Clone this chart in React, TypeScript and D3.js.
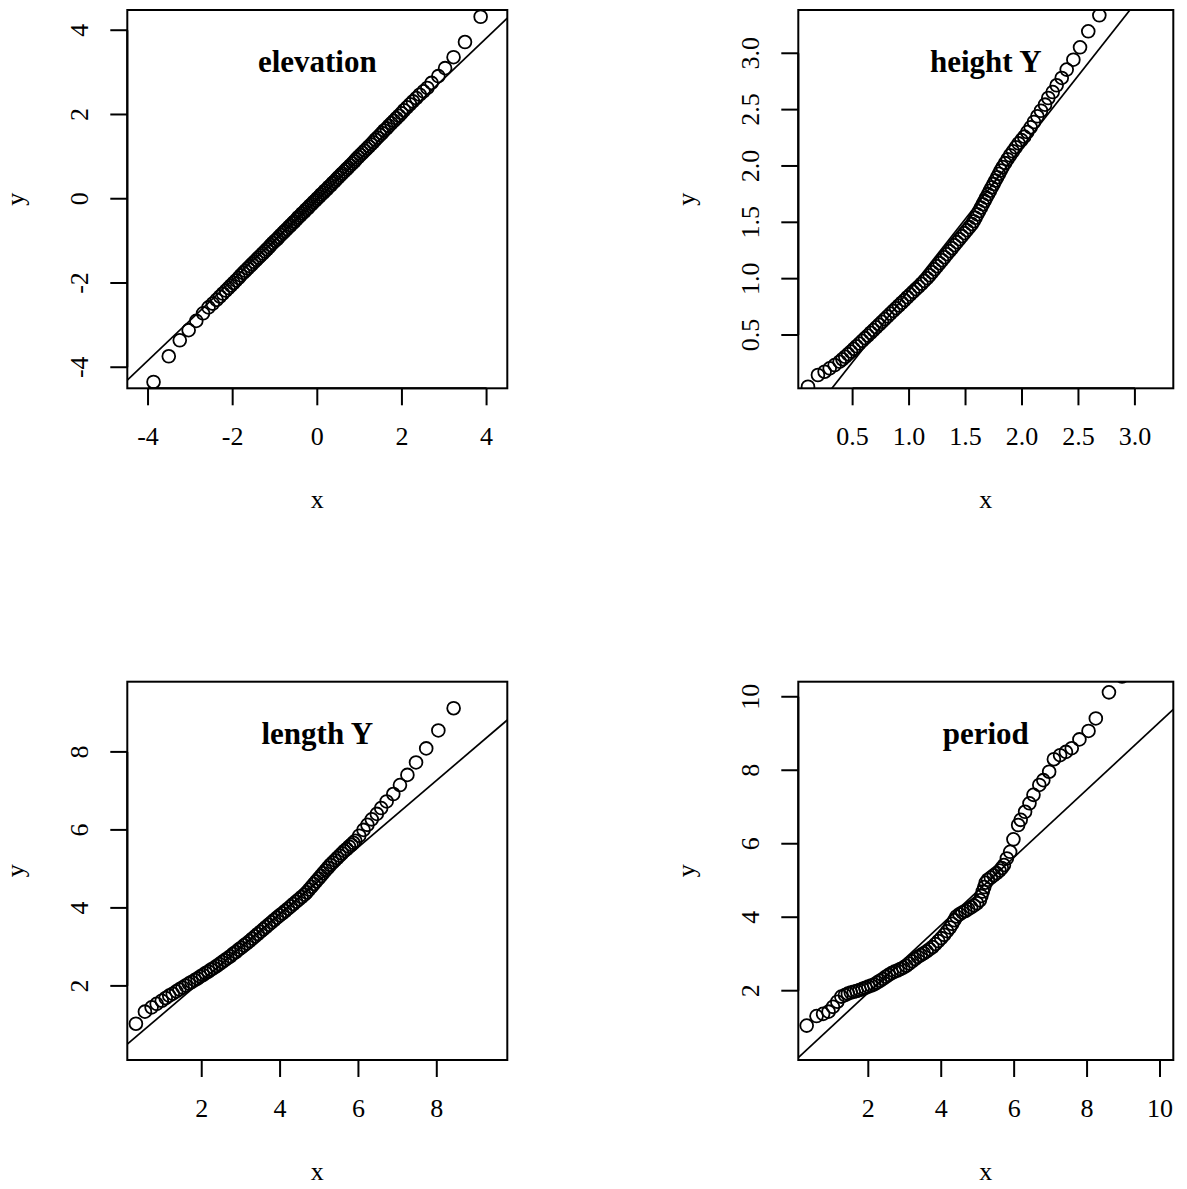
import React from "react";
import * as d3 from "d3";

// Quantile pairs [x, y] for each variable
const elevationQQ: [number, number][] = [
  [-3.87, -4.35], [-3.51, -3.74], [-3.25, -3.36], [-3.04, -3.12], [-2.86, -2.9], [-2.7, -2.72], [-2.57, -2.58], [-2.47, -2.49],
  [-2.38, -2.4], [-2.3, -2.32], [-2.23, -2.25], [-2.16, -2.18], [-2.1, -2.12], [-2.04, -2.06], [-1.98, -2.0], [-1.92, -1.94],
  [-1.86, -1.88], [-1.81, -1.82], [-1.75, -1.76], [-1.7, -1.71], [-1.64, -1.65], [-1.59, -1.6], [-1.54, -1.55], [-1.49, -1.5],
  [-1.44, -1.45], [-1.39, -1.4], [-1.34, -1.35], [-1.29, -1.3], [-1.24, -1.25], [-1.19, -1.2], [-1.14, -1.15], [-1.1, -1.1],
  [-1.05, -1.05], [-1.0, -1.0], [-0.95, -0.96], [-0.91, -0.91], [-0.86, -0.86], [-0.81, -0.81], [-0.77, -0.77], [-0.72, -0.72],
  [-0.67, -0.67], [-0.63, -0.63], [-0.58, -0.58], [-0.54, -0.54], [-0.49, -0.49], [-0.45, -0.44], [-0.4, -0.4], [-0.36, -0.35],
  [-0.31, -0.31], [-0.27, -0.26], [-0.22, -0.22], [-0.18, -0.17], [-0.13, -0.13], [-0.09, -0.08], [-0.04, -0.04], [0.0, 0.01],
  [0.05, 0.05], [0.09, 0.1], [0.14, 0.14], [0.18, 0.19], [0.23, 0.23], [0.27, 0.28], [0.32, 0.32], [0.36, 0.37], [0.41, 0.41],
  [0.45, 0.46], [0.5, 0.51], [0.55, 0.56], [0.59, 0.6], [0.64, 0.65], [0.69, 0.7], [0.73, 0.74], [0.78, 0.79], [0.83, 0.84],
  [0.88, 0.89], [0.92, 0.94], [0.97, 0.99], [1.02, 1.04], [1.07, 1.09], [1.12, 1.14], [1.17, 1.19], [1.22, 1.24], [1.27, 1.29],
  [1.32, 1.34], [1.37, 1.4], [1.42, 1.45], [1.48, 1.51], [1.53, 1.56], [1.58, 1.62], [1.64, 1.67], [1.69, 1.73], [1.75, 1.79],
  [1.81, 1.85], [1.87, 1.91], [1.93, 1.97], [1.99, 2.03], [2.05, 2.1], [2.12, 2.17], [2.19, 2.24], [2.26, 2.31], [2.34, 2.39],
  [2.42, 2.47], [2.51, 2.55], [2.6, 2.63], [2.7, 2.75], [2.86, 2.91], [3.02, 3.1], [3.22, 3.36], [3.49, 3.72], [3.86, 4.32],
];

const heightQQ: [number, number][] = [
  [0.105, 0.041], [0.193, 0.145], [0.252, 0.174], [0.297, 0.204], [0.341, 0.233], [0.385, 0.263],
  [0.41, 0.285], [0.435, 0.307], [0.46, 0.33], [0.485, 0.353], [0.51, 0.377], [0.535, 0.4], [0.56, 0.424],
  [0.585, 0.448], [0.61, 0.472], [0.635, 0.495], [0.66, 0.52], [0.685, 0.544], [0.71, 0.568], [0.735, 0.592],
  [0.76, 0.617], [0.785, 0.641], [0.81, 0.665], [0.835, 0.69], [0.86, 0.714], [0.885, 0.738], [0.91, 0.762],
  [0.935, 0.786], [0.96, 0.81], [0.985, 0.835], [1.01, 0.859], [1.035, 0.883], [1.06, 0.907], [1.085, 0.93],
  [1.11, 0.955], [1.135, 0.98], [1.16, 1.004], [1.182, 1.03], [1.204, 1.057], [1.226, 1.083], [1.248, 1.11],
  [1.27, 1.137], [1.292, 1.163], [1.314, 1.19], [1.336, 1.217], [1.358, 1.244], [1.38, 1.27], [1.402, 1.297],
  [1.424, 1.324], [1.446, 1.35], [1.468, 1.377], [1.49, 1.404], [1.512, 1.43], [1.534, 1.457], [1.556, 1.484],
  [1.572, 1.51], [1.588, 1.54], [1.604, 1.57], [1.62, 1.6], [1.636, 1.63], [1.652, 1.66], [1.668, 1.69],
  [1.684, 1.72], [1.7, 1.75], [1.716, 1.78], [1.732, 1.81], [1.748, 1.84], [1.764, 1.87], [1.78, 1.9],
  [1.796, 1.93], [1.812, 1.96], [1.828, 1.99], [1.85, 2.025], [1.872, 2.06], [1.895, 2.095], [1.92, 2.13],
  [1.945, 2.165], [1.97, 2.2], [1.995, 2.23], [2.02, 2.26], [2.047, 2.301], [2.077, 2.343], [2.106, 2.39],
  [2.136, 2.441], [2.168, 2.49], [2.204, 2.544], [2.233, 2.603], [2.272, 2.656], [2.307, 2.716], [2.352, 2.781],
  [2.396, 2.855], [2.455, 2.943], [2.514, 3.053], [2.587, 3.195], [2.685, 3.337],
];

const lengthQQ: [number, number][] = [
  [0.32, 1.03], [0.55, 1.34], [0.72, 1.45], [0.85, 1.54], [0.98, 1.62], [1.08, 1.69], [1.17, 1.75], [1.26, 1.8],
  [1.35, 1.86], [1.43, 1.91], [1.51, 1.96], [1.59, 2.01], [1.67, 2.06], [1.74, 2.1], [1.82, 2.15], [1.89, 2.19],
  [1.96, 2.24], [2.03, 2.28], [2.1, 2.33], [2.17, 2.37], [2.24, 2.42], [2.31, 2.46], [2.38, 2.51], [2.45, 2.56],
  [2.52, 2.61], [2.59, 2.66], [2.66, 2.71], [2.73, 2.76], [2.8, 2.82], [2.87, 2.87], [2.94, 2.93], [3.01, 2.98],
  [3.08, 3.04], [3.15, 3.09], [3.22, 3.15], [3.29, 3.21], [3.36, 3.27], [3.43, 3.33], [3.5, 3.39], [3.57, 3.45],
  [3.64, 3.51], [3.71, 3.57], [3.78, 3.63], [3.85, 3.69], [3.92, 3.75], [3.99, 3.81], [4.06, 3.86], [4.13, 3.92],
  [4.2, 3.98], [4.27, 4.04], [4.34, 4.1], [4.41, 4.16], [4.48, 4.22], [4.55, 4.28], [4.62, 4.34], [4.68, 4.4],
  [4.74, 4.47], [4.8, 4.54], [4.86, 4.61], [4.92, 4.68], [4.98, 4.75], [5.04, 4.82], [5.1, 4.89], [5.16, 4.96],
  [5.22, 5.03], [5.28, 5.1], [5.34, 5.16], [5.4, 5.22], [5.46, 5.28], [5.52, 5.34], [5.58, 5.4], [5.64, 5.46],
  [5.7, 5.51], [5.76, 5.57], [5.82, 5.62], [5.87, 5.67], [5.92, 5.72], [6.02, 5.85], [6.13, 6.0], [6.23, 6.13],
  [6.34, 6.27], [6.47, 6.41], [6.58, 6.56], [6.72, 6.73], [6.89, 6.92], [7.06, 7.15], [7.25, 7.41], [7.47, 7.73],
  [7.73, 8.09], [8.04, 8.55], [8.43, 9.12],
];

const periodQQ: [number, number][] = [
  [0.31, 1.05], [0.58, 1.31], [0.76, 1.37], [0.91, 1.43], [1.03, 1.56], [1.15, 1.7], [1.26, 1.84], [1.36, 1.88],
  [1.44, 1.92], [1.52, 1.95], [1.6, 1.97], [1.68, 1.99], [1.76, 2.02], [1.84, 2.05], [1.92, 2.08], [2.0, 2.11],
  [2.08, 2.14], [2.16, 2.17], [2.24, 2.22], [2.32, 2.27], [2.4, 2.32], [2.48, 2.38], [2.56, 2.43], [2.64, 2.48],
  [2.72, 2.52], [2.8, 2.55], [2.88, 2.59], [2.96, 2.63], [3.04, 2.68], [3.12, 2.74], [3.2, 2.8], [3.28, 2.86],
  [3.36, 2.92], [3.44, 2.97], [3.52, 3.02], [3.6, 3.07], [3.68, 3.13], [3.76, 3.19], [3.84, 3.27], [3.92, 3.35],
  [4.0, 3.43], [4.08, 3.52], [4.16, 3.62], [4.24, 3.72], [4.3, 3.82], [4.36, 3.92], [4.42, 4.02], [4.5, 4.08],
  [4.58, 4.13], [4.66, 4.17], [4.74, 4.22], [4.82, 4.27], [4.9, 4.32], [4.98, 4.38], [5.06, 4.46], [5.1, 4.58],
  [5.14, 4.7], [5.18, 4.82], [5.22, 4.94], [5.28, 5.02], [5.36, 5.08], [5.44, 5.14], [5.52, 5.2], [5.6, 5.27],
  [5.66, 5.34], [5.72, 5.42], [5.8, 5.6], [5.89, 5.78], [5.98, 6.12], [6.11, 6.51], [6.18, 6.65], [6.3, 6.87],
  [6.42, 7.1], [6.53, 7.33], [6.69, 7.6], [6.8, 7.73], [6.96, 7.96], [7.09, 8.3], [7.26, 8.41], [7.42, 8.5],
  [7.58, 8.6], [7.79, 8.84], [8.04, 9.07], [8.24, 9.41], [8.6, 10.12], [8.96, 10.55],
];

// Reference lines: [intercept, slope]
const elevationLine = [-0.012, 0.957];
const heightLine = [-0.376, 1.272];
const lengthLine = [0.419, 0.857];
const periodLine = [0.105, 0.9215];

// Axis ticks
const elevationTicks = [-4, -2, 0, 2, 4];
const heightTicks = [0.5, 1.0, 1.5, 2.0, 2.5, 3.0];
const lengthTicks = [2, 4, 6, 8];
const periodXTicks = [2, 4, 6, 8, 10];
const periodYTicks = [2, 4, 6, 8, 10];

const titles = ["elevation", "height Y", "length Y", "period"];

const W = 1187;
const H = 1189;
const colLeft = [127.3, 798.3];
const colRight = [507.3, 1173.3];
const rowTop = [10, 681.7];
const rowBottom = [388.3, 1060];

const FONT = "'Liberation Serif', 'Times New Roman', serif";
const TICK_SIZE = 26;
const TITLE_SIZE = 31;

type PanelSpec = {
  id: string;
  title: string;
  pts: [number, number][];
  line: number[];
  xDomain: [number, number];
  yDomain: [number, number];
  xTicks: number[];
  yTicks: number[];
  fmt: (d: number) => string;
  col: number;
  row: number;
};

const plain = (d: number) => String(d);
const oneDecimal = (d: number) => d.toFixed(1);

const panels: PanelSpec[] = [
  { id: "p1", title: titles[0], pts: elevationQQ, line: elevationLine, xDomain: [-4.49, 4.49], yDomain: [-4.5, 4.48], xTicks: elevationTicks, yTicks: elevationTicks, fmt: plain, col: 0, row: 0 },
  { id: "p2", title: titles[1], pts: heightQQ, line: heightLine, xDomain: [0.019, 3.34], yDomain: [0.027, 3.384], xTicks: heightTicks, yTicks: heightTicks, fmt: oneDecimal, col: 1, row: 0 },
  { id: "p3", title: titles[2], pts: lengthQQ, line: lengthLine, xDomain: [0.1, 9.8], yDomain: [0.1, 9.8], xTicks: lengthTicks, yTicks: lengthTicks, fmt: plain, col: 0, row: 1 },
  { id: "p4", title: titles[3], pts: periodQQ, line: periodLine, xDomain: [0.08, 10.365], yDomain: [0.114, 10.41], xTicks: periodXTicks, yTicks: periodYTicks, fmt: plain, col: 1, row: 1 },
];

function QQPanel({ p }: { p: PanelSpec }) {
  const left = colLeft[p.col];
  const right = colRight[p.col];
  const top = rowTop[p.row];
  const bottom = rowBottom[p.row];
  const x = d3.scaleLinear().domain(p.xDomain).range([left, right]);
  const y = d3.scaleLinear().domain(p.yDomain).range([bottom, top]);
  const [a, b] = p.line;
  const lineGen = d3
    .line<number>()
    .x((d) => x(d))
    .y((d) => y(a + b * d));
  const cx = (left + right) / 2;
  const cy = (top + bottom) / 2;
  const tick = 17;

  return (
    <g>
      <defs>
        <clipPath id={`clip-${p.id}`}>
          <rect x={left} y={top} width={right - left} height={bottom - top} />
        </clipPath>
      </defs>
      <g clipPath={`url(#clip-${p.id})`}>
        <path d={lineGen(p.xDomain) || ""} fill="none" stroke="#000" strokeWidth={1.7} />
        {p.pts.map(([px, py], i) => (
          <circle key={i} cx={x(px)} cy={y(py)} r={6.4} fill="none" stroke="#000" strokeWidth={1.8} />
        ))}
      </g>
      <rect x={left} y={top} width={right - left} height={bottom - top} fill="none" stroke="#000" strokeWidth={2} />

      {/* bottom axis */}
      <line x1={x(p.xTicks[0])} x2={x(p.xTicks[p.xTicks.length - 1])} y1={bottom} y2={bottom} stroke="#000" strokeWidth={2} />
      {p.xTicks.map((t) => (
        <g key={`x${t}`}>
          <line x1={x(t)} x2={x(t)} y1={bottom} y2={bottom + tick} stroke="#000" strokeWidth={2} />
          <text x={x(t)} y={bottom + 57} textAnchor="middle" fontFamily={FONT} fontSize={TICK_SIZE}>
            {p.fmt(t)}
          </text>
        </g>
      ))}

      {/* left axis */}
      <line x1={left} x2={left} y1={y(p.yTicks[0])} y2={y(p.yTicks[p.yTicks.length - 1])} stroke="#000" strokeWidth={2} />
      {p.yTicks.map((t) => (
        <g key={`y${t}`}>
          <line x1={left} x2={left - tick} y1={y(t)} y2={y(t)} stroke="#000" strokeWidth={2} />
          <text
            transform={`translate(${left - 39},${y(t)}) rotate(-90)`}
            textAnchor="middle"
            fontFamily={FONT}
            fontSize={TICK_SIZE}
          >
            {p.fmt(t)}
          </text>
        </g>
      ))}

      <text x={cx} y={bottom + 120} textAnchor="middle" fontFamily={FONT} fontSize={TICK_SIZE}>
        x
      </text>
      <text transform={`translate(${left - 103},${cy}) rotate(-90)`} textAnchor="middle" fontFamily={FONT} fontSize={TICK_SIZE}>
        y
      </text>

      <text x={cx} y={top + 62} textAnchor="middle" fontFamily={FONT} fontSize={TITLE_SIZE} fontWeight="bold">
        {p.title}
      </text>
    </g>
  );
}

export default function App() {
  return (
    <svg
      width={W}
      height={H}
      viewBox={`0 0 ${W} ${H}`}
      style={{ position: "absolute", left: 0, top: 0, background: "#fff" }}
    >
      <rect x={0} y={0} width={W} height={H} fill="#fff" />
      {panels.map((p) => (
        <QQPanel key={p.id} p={p} />
      ))}
    </svg>
  );
}
